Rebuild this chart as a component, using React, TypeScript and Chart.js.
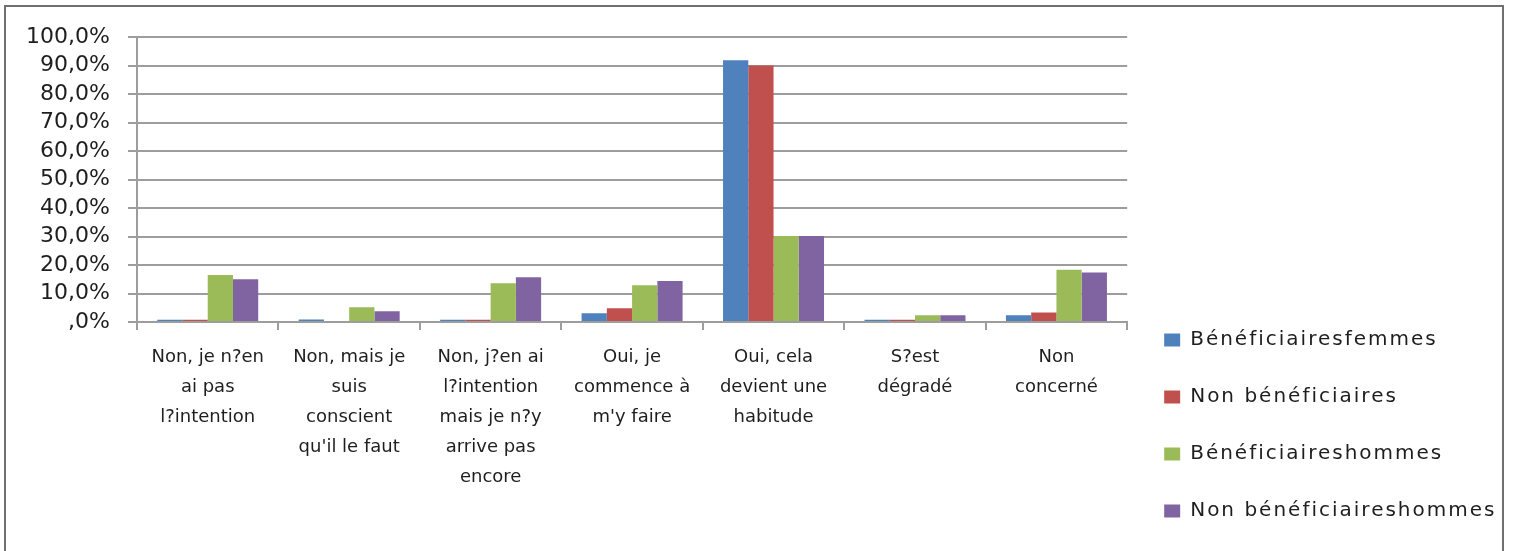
import React, { useEffect, useRef } from 'react';
import { Chart, registerables } from 'chart.js';

Chart.register(...registerables);

const categories: string[][] = [
  ['Non, je n?en', 'ai pas', 'l?intention'],
  ['Non, mais je', 'suis', 'conscient', "qu'il le faut"],
  ['Non, j?en ai', 'l?intention', 'mais je n?y', 'arrive pas', 'encore'],
  ['Oui, je', 'commence à', "m'y faire"],
  ['Oui, cela', 'devient une', 'habitude'],
  ['S?est', 'dégradé'],
  ['Non', 'concerné'],
];

const seriesNames = [
  'Bénéficiairesfemmes',
  'Non bénéficiaires',
  'Bénéficiaireshommes',
  'Non bénéficiaireshommes',
];

const beneficiairesFemmes = [0.8, 0.9, 0.8, 3.1, 91.8, 0.8, 2.4];
const nonBeneficiaires = [0.8, 0, 0.8, 4.8, 90.0, 0.8, 3.3];
const beneficiairesHommes = [16.5, 5.2, 13.6, 12.9, 30.2, 2.4, 18.3];
const nonBeneficiairesHommes = [15.0, 3.8, 15.7, 14.4, 30.2, 2.4, 17.4];

const seriesColors = ['#4F81BD', '#C0504D', '#9BBB59', '#8064A2'];

const yMin = 0;
const yMax = 100;
const yStep = 10;

const FONT = "'DejaVu Sans', sans-serif";
const GRID = '#9d9d9d';
const TEXT = '#1e1e1e';

export default function App() {
  const ref = useRef<HTMLCanvasElement>(null);

  useEffect(() => {
    const canvas = ref.current;
    if (!canvas) return;
    const values = [beneficiairesFemmes, nonBeneficiaires, beneficiairesHommes, nonBeneficiairesHommes];
    const chart = new Chart(canvas, {
      type: 'bar',
      data: {
        labels: categories,
        datasets: seriesNames.map((name, i) => ({
          label: name,
          data: values[i],
          backgroundColor: seriesColors[i],
          borderWidth: 0,
          categoryPercentage: 0.714,
          barPercentage: 1.0,
        })),
      },
      options: {
        responsive: false,
        animation: false,
        devicePixelRatio: 1,
        layout: { padding: { top: 37, left: 0, right: 0, bottom: 0 } },
        plugins: {
          tooltip: { enabled: false },
          legend: {
            position: 'right',
            align: 'end',
            labels: {
              color: TEXT,
              font: { family: FONT, size: 20 },
              boxWidth: 16,
              boxHeight: 13,
              padding: 37,
            },
          },
        },
        scales: {
          x: {
            grid: {
              offset: true,
              drawOnChartArea: false,
              drawTicks: true,
              tickLength: 8,
              color: GRID,
              lineWidth: 2,
            },
            border: { display: true, color: GRID, width: 2 },
            ticks: {
              color: TEXT,
              font: { family: FONT, size: 18, lineHeight: 30 / 18 },
              padding: 12,
              autoSkip: false,
              maxRotation: 0,
              minRotation: 0,
            },
            afterFit: (s: any) => {
              s.height = 236;
            },
          },
          y: {
            min: yMin,
            max: yMax,
            ticks: {
              stepSize: yStep,
              autoSkip: false,
              color: TEXT,
              font: { family: FONT, size: 22 },
              padding: 18,
              callback: (v: any) => {
                const n = Number(v);
                if (n === 0) return ',0%';
                return n.toFixed(1).replace('.', ',') + '%';
              },
            },
            grid: { color: GRID, lineWidth: 2, tickLength: 9 },
            border: { display: true, color: GRID, width: 2 },
            afterFit: (s: any) => {
              s.width = 137;
            },
          },
        },
      },
    } as any);

    // Legend text in the reference is letter-spaced
    const legend: any = (chart as any).legend;
    if (legend) {
      const origUpdate = legend.update.bind(legend);
      const origDraw = legend.draw.bind(legend);
      legend.update = (...args: any[]) => {
        const ctx: any = chart.ctx;
        ctx.save();
        ctx.letterSpacing = '2px';
        const r = origUpdate(...args);
        ctx.restore();
        return r;
      };
      legend.draw = (...args: any[]) => {
        const ctx: any = chart.ctx;
        ctx.save();
        ctx.letterSpacing = '2px';
        const r = origDraw(...args);
        ctx.restore();
        return r;
      };
    }
    chart.update();

    for (let k = 0; k < 4; k++) {
      const dx = chart.chartArea.right - 1127;
      if (Math.abs(dx) <= 0.5) break;
      const pad = (chart.options.layout as any).padding;
      pad.right = (pad.right || 0) + dx;
      chart.update();
    }

    return () => chart.destroy();
  }, []);

  return (
    <div style={{ position: 'fixed', left: 0, top: 0, width: 1517, height: 551, overflow: 'hidden', background: '#fff' }}>
      <canvas ref={ref} width={1517} height={558} style={{ display: 'block' }} />
      <div
        style={{
          position: 'absolute',
          left: 4,
          top: 5,
          width: 1500,
          height: 600,
          boxSizing: 'border-box',
          border: '2px solid #707070',
          pointerEvents: 'none',
        }}
      />
    </div>
  );
}
